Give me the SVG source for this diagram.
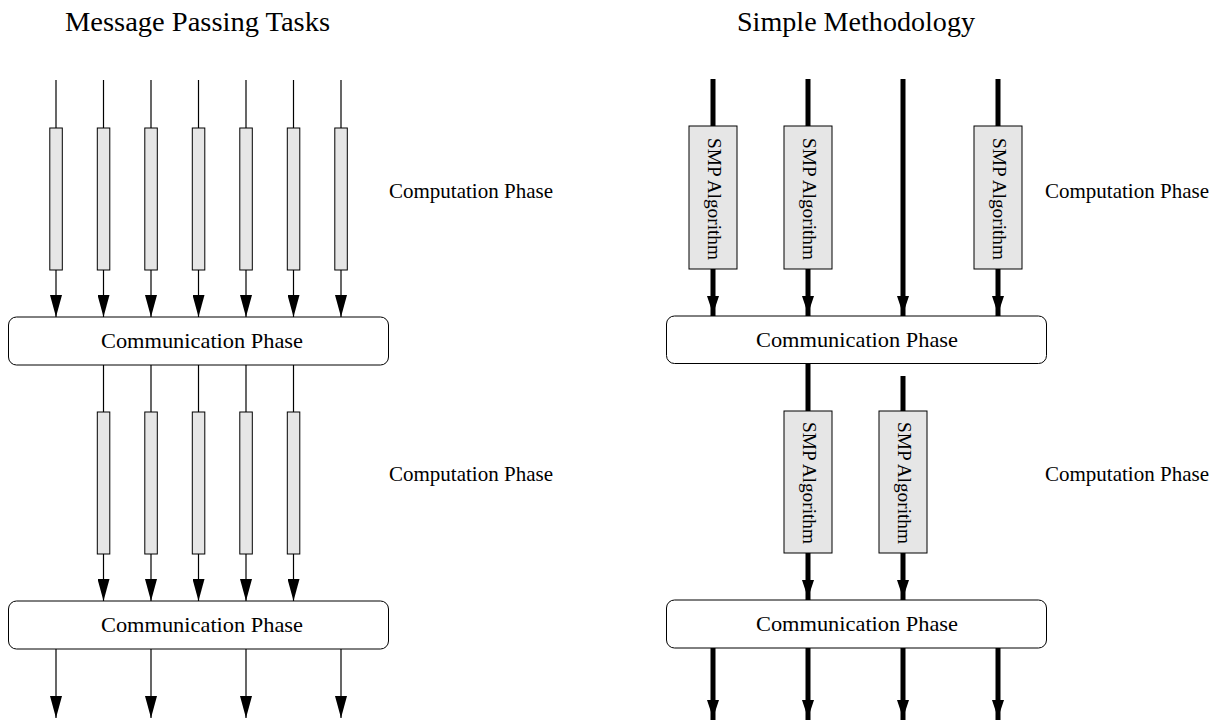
<svg xmlns="http://www.w3.org/2000/svg" width="1215" height="720" viewBox="0 0 1215 720">
<style>
text{font-family:"Liberation Serif","Times New Roman",serif;fill:#000}
.title{font-size:27px}
.lbl{font-size:21px}
.comm{font-size:22px;text-anchor:middle}
.smp{font-size:19px;text-anchor:middle}
.cbox{fill:#fff;stroke:#000;stroke-width:1}
.bar{fill:#e6e6e6;stroke:#000;stroke-width:1}
.thin{stroke:#000;stroke-width:1.2;fill:none;marker-end:url(#ah)}
.thick{stroke:#000;stroke-width:5;fill:none;marker-end:url(#ahk)}
</style>
<defs>
<marker id="ah" markerUnits="userSpaceOnUse" markerWidth="22" markerHeight="12" refX="22" refY="6" orient="auto"><path d="M0,0 L22,6 L0,12 z" fill="#000"/></marker>
<marker id="ahk" markerUnits="userSpaceOnUse" markerWidth="22" markerHeight="12" refX="20" refY="6" orient="auto"><path d="M0,0 L18,6 L0,12 z" fill="#000"/></marker>
</defs>
<rect width="1215" height="720" fill="#fff"/>
<g id="titles">
<text class="title" x="65" y="31" textLength="265" lengthAdjust="spacingAndGlyphs">Message Passing Tasks</text>
<text class="title" x="737" y="31" textLength="238" lengthAdjust="spacingAndGlyphs">Simple Methodology</text>
<text class="lbl" x="389" y="198" textLength="164" lengthAdjust="spacingAndGlyphs">Computation Phase</text>
<text class="lbl" x="389" y="481" textLength="164" lengthAdjust="spacingAndGlyphs">Computation Phase</text>
<text class="lbl" x="1045" y="198" textLength="164" lengthAdjust="spacingAndGlyphs">Computation Phase</text>
<text class="lbl" x="1045" y="481" textLength="164" lengthAdjust="spacingAndGlyphs">Computation Phase</text>
</g>
<g id="connectors">
<path class="thin" d="M56,80V317"/><path class="thin" d="M103.5,80V317"/><path class="thin" d="M151,80V317"/><path class="thin" d="M198.5,80V317"/><path class="thin" d="M246,80V317"/><path class="thin" d="M293.5,80V317"/><path class="thin" d="M341,80V317"/>
<path class="thin" d="M103.5,365V601"/><path class="thin" d="M151,365V601"/><path class="thin" d="M198.5,365V601"/><path class="thin" d="M246,365V601"/><path class="thin" d="M293.5,365V601"/>
<path class="thin" d="M56,649V718"/><path class="thin" d="M151,649V718"/><path class="thin" d="M246,649V718"/><path class="thin" d="M341,649V718"/>
<path class="thick" d="M713,79V316"/><path class="thick" d="M808,79V316"/><path class="thick" d="M903,79V316"/><path class="thick" d="M998,79V316"/>
<path class="thick" d="M808,363V600"/><path class="thick" d="M903,376V600"/>
<path class="thick" d="M713,648V720"/><path class="thick" d="M808,648V720"/><path class="thick" d="M903,648V720"/><path class="thick" d="M998,648V720"/>
</g>
<g id="mp-tasks-top">
<rect class="bar" x="49.8" y="128" width="12.5" height="142"/>
<rect class="bar" x="97.3" y="128" width="12.5" height="142"/>
<rect class="bar" x="144.8" y="128" width="12.5" height="142"/>
<rect class="bar" x="192.3" y="128" width="12.5" height="142"/>
<rect class="bar" x="239.8" y="128" width="12.5" height="142"/>
<rect class="bar" x="287.3" y="128" width="12.5" height="142"/>
<rect class="bar" x="334.8" y="128" width="12.5" height="142"/>
</g>
<g id="mp-tasks-mid">
<rect class="bar" x="97.3" y="412" width="12.5" height="142"/>
<rect class="bar" x="144.8" y="412" width="12.5" height="142"/>
<rect class="bar" x="192.3" y="412" width="12.5" height="142"/>
<rect class="bar" x="239.8" y="412" width="12.5" height="142"/>
<rect class="bar" x="287.3" y="412" width="12.5" height="142"/>
</g>
<g id="mp-comm-1"><rect class="cbox" x="8.5" y="317" width="380" height="48" rx="8"/><text class="comm" x="202" y="348" textLength="202" lengthAdjust="spacingAndGlyphs">Communication Phase</text></g>
<g id="mp-comm-2"><rect class="cbox" x="8.5" y="601" width="380" height="48" rx="8"/><text class="comm" x="202" y="632" textLength="202" lengthAdjust="spacingAndGlyphs">Communication Phase</text></g>
<g id="sm-comm-1"><rect class="cbox" x="666.5" y="316" width="380" height="47.5" rx="8"/><text class="comm" x="857" y="347" textLength="202" lengthAdjust="spacingAndGlyphs">Communication Phase</text></g>
<g id="sm-comm-2"><rect class="cbox" x="666.5" y="600" width="380" height="48" rx="8"/><text class="comm" x="857" y="631" textLength="202" lengthAdjust="spacingAndGlyphs">Communication Phase</text></g>
<g id="smp-1"><rect class="bar" x="689" y="126" width="48" height="143"/><text class="smp" transform="translate(708,199) rotate(90)" textLength="122" lengthAdjust="spacingAndGlyphs">SMP Algorithm</text></g>
<g id="smp-2"><rect class="bar" x="784" y="126" width="48" height="143"/><text class="smp" transform="translate(803,199) rotate(90)" textLength="122" lengthAdjust="spacingAndGlyphs">SMP Algorithm</text></g>
<g id="smp-3"><rect class="bar" x="974" y="126" width="48" height="143"/><text class="smp" transform="translate(993,199) rotate(90)" textLength="122" lengthAdjust="spacingAndGlyphs">SMP Algorithm</text></g>
<g id="smp-4"><rect class="bar" x="784" y="411" width="48" height="142"/><text class="smp" transform="translate(803,483) rotate(90)" textLength="122" lengthAdjust="spacingAndGlyphs">SMP Algorithm</text></g>
<g id="smp-5"><rect class="bar" x="879" y="411" width="48" height="142"/><text class="smp" transform="translate(898,483) rotate(90)" textLength="122" lengthAdjust="spacingAndGlyphs">SMP Algorithm</text></g>
</svg>
